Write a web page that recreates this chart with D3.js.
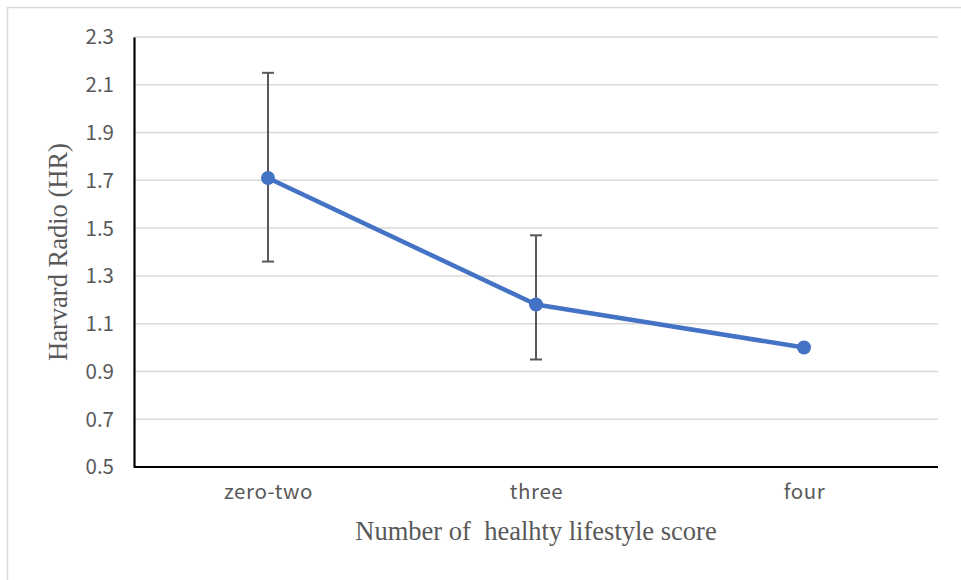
<!DOCTYPE html>
<html><head><meta charset="utf-8">
<script src="https://cdn.jsdelivr.net/npm/d3@7"></script>
<style>body{margin:0;background:#fff;} svg{display:block;}</style>
</head><body>
<svg id="c" width="961" height="580"></svg>
<script>
const categories = ["zero-two", "three", "four"];
const hrValues = [1.71, 1.18, 1.00];
const errUpper = [2.15, 1.47, null];
const errLower = [1.36, 0.95, null];
const yTicks = [0.5, 0.7, 0.9, 1.1, 1.3, 1.5, 1.7, 1.9, 2.1, 2.3];

const svg = d3.select("#c");
const m = {l: 134, r: 938, t: 37, b: 467};

svg.append("rect").attr("x", 7.5).attr("y", 7.5).attr("width", 970).attr("height", 590)
  .attr("fill", "#fff").attr("stroke", "#d9d9d9").attr("stroke-width", 1.5);

const x = d3.scalePoint().domain(categories).range([m.l, m.r]).padding(0.5);
const y = d3.scaleLinear().domain([0.5, 2.3]).range([m.b, m.t]);

// gridlines
svg.append("g").selectAll("line").data(yTicks.slice(1)).join("line")
  .attr("x1", m.l).attr("x2", m.r).attr("y1", d => y(d)).attr("y2", d => y(d))
  .attr("stroke", "#d9d9d9").attr("stroke-width", 1.5);

const tickFont = "'Noto Sans CJK SC', 'Noto Sans', sans-serif";

// y axis
const yAxis = svg.append("g").attr("transform", `translate(${m.l},0)`)
  .call(d3.axisLeft(y).tickValues(yTicks).tickFormat(d3.format(".1f")).tickSize(0).tickPadding(20));
yAxis.select(".domain").attr("stroke", "#000").attr("stroke-width", 2.2);
yAxis.selectAll("text").attr("fill", "#595959").attr("font-size", 20.5)
  .attr("font-family", tickFont).attr("dy", "0.34em");

// x axis
const xAxis = svg.append("g").attr("transform", `translate(0,${m.b})`)
  .call(d3.axisBottom(x).tickSize(0).tickPadding(17));
xAxis.select(".domain").attr("stroke", "#000").attr("stroke-width", 2.2).attr("d", `M${m.l},0H${m.r}`);
xAxis.selectAll("text").attr("fill", "#595959").attr("font-size", 20.5)
  .attr("font-family", tickFont).attr("letter-spacing", "0.6px");

// error bars
const eb = svg.append("g").attr("stroke", "#595959").attr("stroke-width", 2);
categories.forEach((c, i) => {
  if (errUpper[i] == null) return;
  const cx = x(c);
  eb.append("line").attr("x1", cx).attr("x2", cx).attr("y1", y(errUpper[i])).attr("y2", y(errLower[i]));
  eb.append("line").attr("x1", cx - 6).attr("x2", cx + 6).attr("y1", y(errUpper[i])).attr("y2", y(errUpper[i]));
  eb.append("line").attr("x1", cx - 6).attr("x2", cx + 6).attr("y1", y(errLower[i])).attr("y2", y(errLower[i]));
});

// line
const pts = categories.map((c, i) => [x(c), y(hrValues[i])]);
svg.append("path").attr("d", d3.line()(pts)).attr("fill", "none")
  .attr("stroke", "#4472c4").attr("stroke-width", 4.5).attr("stroke-linejoin", "round");
svg.append("g").selectAll("circle").data(pts).join("circle")
  .attr("cx", d => d[0]).attr("cy", d => d[1]).attr("r", 7).attr("fill", "#4472c4");

// titles
svg.append("text").attr("x", 536).attr("y", 540).attr("text-anchor", "middle")
  .attr("font-family", "'Liberation Serif', 'Times New Roman', serif").attr("font-size", 26.5)
  .attr("fill", "#595959").attr("xml:space", "preserve").style("white-space", "pre")
  .text("Number of  healhty lifestyle score");
svg.append("text").attr("transform", "translate(67,252) rotate(-90)").attr("text-anchor", "middle")
  .attr("font-family", "'Liberation Serif', 'Times New Roman', serif").attr("font-size", 26.5)
  .attr("fill", "#595959").text("Harvard Radio (HR)");
</script>
</body></html>
